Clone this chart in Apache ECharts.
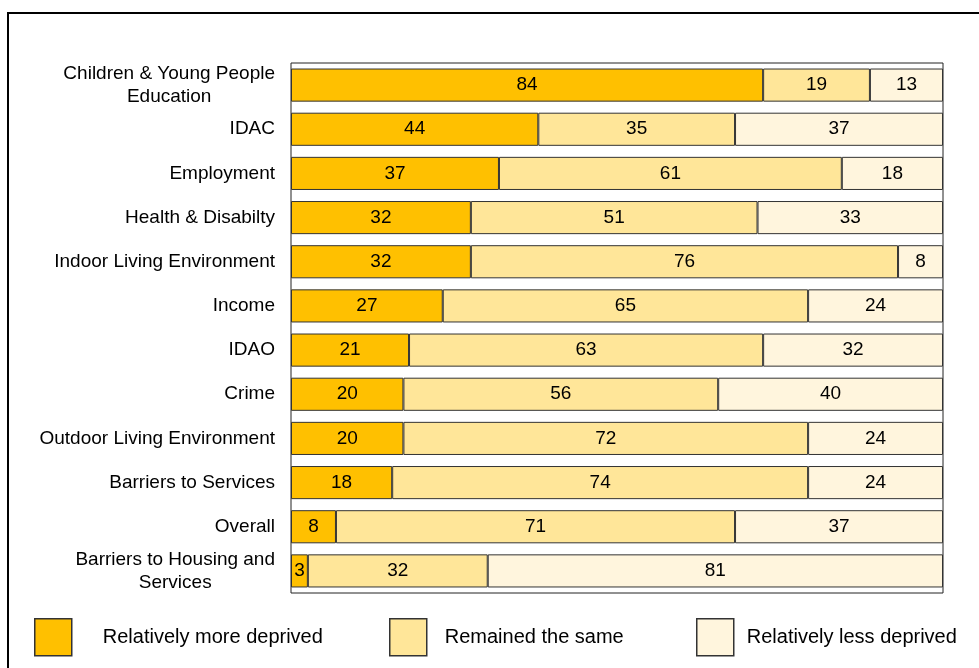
<!DOCTYPE html>
<html>
<head>
<meta charset="utf-8">
<script src="https://cdn.jsdelivr.net/npm/echarts@6/dist/echarts.min.js"></script>
<style>
  html, body { margin: 0; padding: 0; background: #fff; }
  #chart { width: 979px; height: 668px; }
</style>
</head>
<body>
<div id="chart"></div>
<script>
// domains, top to bottom
const domains = [
  'Children & Young People\nEducation',
  'IDAC',
  'Employment',
  'Health & Disabilty',
  'Indoor Living Environment',
  'Income',
  'IDAO',
  'Crime',
  'Outdoor Living Environment',
  'Barriers to Services',
  'Overall',
  'Barriers to Housing and\nServices'
]
const moreDeprived = [84, 44, 37, 32, 32, 27, 21, 20, 20, 18, 8, 3]
const remainedSame = [19, 35, 61, 51, 76, 65, 63, 56, 72, 74, 71, 32]
const lessDeprived = [13, 37, 18, 33, 8, 24, 32, 40, 24, 24, 37, 81]

const seriesNames = ['Relatively more deprived', 'Remained the same', 'Relatively less deprived']
const colors = ['#FFC000', '#FFE699', '#FFF5DD']
const total = 116

const font = '"Liberation Sans", Arial, sans-serif'

const chart = echarts.init(document.getElementById('chart'))

function makeSeries(name, values, color) {
  return {
    name: name,
    type: 'bar',
    stack: 'all',
    data: values,
    barCategoryGap: '25%',
    itemStyle: { color: color, borderColor: '#333', borderWidth: 1 },
    label: {
      show: true,
      position: 'inside',
      color: '#000',
      fontSize: 19,
      fontFamily: font
    },
    emphasis: { disabled: true }
  }
}

// each legend entry placed on its own, text gap differs per entry
function makeLegend(name, left, textGap) {
  return {
    data: [name],
    left: left,
    top: 613,
    icon: 'rect',
    itemWidth: 37,
    itemHeight: 37,
    itemStyle: { borderColor: '#333', borderWidth: 1.5 },
    textStyle: { color: '#000', fontSize: 20, fontFamily: font, padding: [0, 0, 0, textGap] },
    selectedMode: false
  }
}

chart.setOption({
  animation: false,
  backgroundColor: '#fff',
  grid: {
    left: 291, right: 36, top: 63, bottom: 75,
    show: true, borderColor: '#222', borderWidth: 1
  },
  xAxis: {
    type: 'value', min: 0, max: total, show: false
  },
  yAxis: {
    type: 'category',
    inverse: true,
    data: domains,
    axisLine: { show: false },
    axisTick: { show: false },
    axisLabel: {
      margin: 16,
      color: '#000',
      fontSize: 19,
      fontFamily: font,
      lineHeight: 23,
      formatter: function (v) {
        return v.split('\n').map(function (l) { return '{c|' + l + '}' }).join('\n')
      },
      rich: { c: { align: 'center', fontSize: 19, fontFamily: font, color: '#000', lineHeight: 23 } }
    }
  },
  legend: [
    makeLegend(seriesNames[0], 29, 26),
    makeLegend(seriesNames[1], 384, 13),
    makeLegend(seriesNames[2], 691, 8)
  ],
  graphic: [{
    type: 'rect',
    shape: { x: 8, y: 13, width: 1000, height: 700 },
    style: { fill: 'none', stroke: '#000', lineWidth: 2 },
    silent: true
  }],
  series: [
    makeSeries(seriesNames[0], moreDeprived, colors[0]),
    makeSeries(seriesNames[1], remainedSame, colors[1]),
    makeSeries(seriesNames[2], lessDeprived, colors[2])
  ]
})
</script>
</body>
</html>
